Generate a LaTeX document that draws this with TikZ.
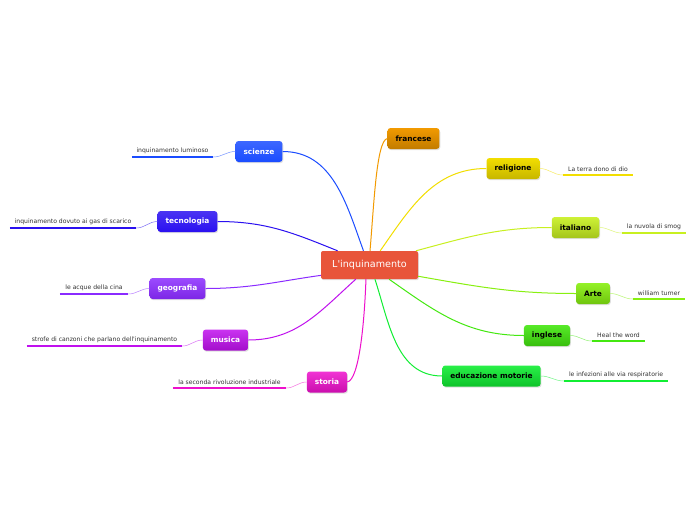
\documentclass[tikz,border=0pt]{standalone}
\usepackage{fontspec}
\setmainfont{DejaVu Sans}
\usetikzlibrary{shadows}
\definecolor{rootred}{HTML}{E8553A}
\definecolor{cfra}{HTML}{F29A00}
\definecolor{crel}{HTML}{F2DE00}
\definecolor{cita}{HTML}{C8F020}
\definecolor{cart}{HTML}{88F010}
\definecolor{cing}{HTML}{44E810}
\definecolor{cedu}{HTML}{11EE33}
\definecolor{csci}{HTML}{1A4CFF}
\definecolor{ctec}{HTML}{2A10F0}
\definecolor{cgeo}{HTML}{8A2BFF}
\definecolor{cmus}{HTML}{C010EE}
\definecolor{csto}{HTML}{EE10CC}

\begin{document}
\begin{tikzpicture}[x=1pt,y=-1pt,
  root/.style={rounded corners=2pt,fill=rootred,text=white,minimum width=97pt,minimum height=28pt,
    font=\fontsize{9.6}{11}\selectfont,drop shadow={opacity=0.25,shadow xshift=0.8pt,shadow yshift=-1.2pt}},
  branch/.style={rounded corners=3pt,minimum height=21pt,inner xsep=8pt,
    font=\fontsize{7.4}{8}\bfseries\selectfont,drop shadow={opacity=0.25,shadow xshift=0.8pt,shadow yshift=-1.2pt}},
  leaf/.style={anchor=south,inner xsep=0pt,inner ysep=3.5pt,text=black!80,font=\fontsize{6.1}{7}\selectfont},
  ul/.style={line width=2.5pt},
  link/.style={line width=1pt},
  twig/.style={line width=0.5pt}]
  \useasboundingbox[fill=white] (0,0) rectangle (696,520);

  % centre
  \node[root] (root) at (369.5,265) {L\textquotesingle inquinamento};

  % branches, left side
  \node[branch,top color=csci!85!white,bottom color=csci,text=white] (sci) at (259,151.5) {scienze};
  \node[branch,top color=ctec!85!white,bottom color=ctec,text=white] (tec) at (187.5,221.5) {tecnologia};
  \node[branch,top color=cgeo!85!white,bottom color=cgeo!90!black,text=white] (geo) at (177.5,288.5) {geografia};
  \node[branch,top color=cmus!85!white,bottom color=cmus!85!black,text=white] (mus) at (225.5,340) {musica};
  \node[branch,top color=csto!85!white,bottom color=csto!85!black,text=white] (sto) at (327,382) {storia};

  % branches, right side
  \node[branch,top color=cfra,bottom color=cfra!80!black] (fra) at (413.5,138.5) {francese};
  \node[branch,top color=crel,bottom color=crel!82!black] (rel) at (513,168.5) {religione};
  \node[branch,top color=cita!90!white,bottom color=cita!82!black] (ita) at (575.5,227.5) {italiano};
  \node[branch,top color=cart!90!white,bottom color=cart!82!black] (art) at (593,293.5) {Arte};
  \node[branch,top color=cing!90!white,bottom color=cing!82!black] (ing) at (547,335.5) {inglese};
  \node[branch,top color=cedu!90!white,bottom color=cedu!82!black] (edu) at (491.5,376) {educazione motorie};

  % leaves
  \node[leaf,minimum width=81pt] (lum) at (172.5,157) {inquinamento luminoso};
  \node[leaf,minimum width=126pt] (gas) at (73,228) {inquinamento dovuto ai gas di scarico};
  \node[leaf,minimum width=68pt] (cina) at (94,294) {le acque della cina};
  \node[leaf,minimum width=155pt] (strofe) at (104.5,346) {strofe di canzoni che parlano dell\textquotesingle inquinamento};
  \node[leaf,minimum width=113pt] (rivol) at (229.5,388) {la seconda rivoluzione industriale};
  \node[leaf,minimum width=70pt] (terra) at (598,175) {La terra dono di dio};
  \node[leaf,minimum width=64pt] (smog) at (654,233) {la nuvola di smog};
  \node[leaf,minimum width=52pt] (turner) at (659,299) {william turner};
  \node[leaf,minimum width=53pt] (heal) at (618.5,341) {Heal the word};
  \node[leaf,minimum width=104pt] (infez) at (616,381) {le infezioni alle via respiratorie};

  % underlines
  \draw[ul,csci] (lum.south west) -- (lum.south east);
  \draw[ul,ctec] (gas.south west) -- (gas.south east);
  \draw[ul,cgeo] (cina.south west) -- (cina.south east);
  \draw[ul,cmus] (strofe.south west) -- (strofe.south east);
  \draw[ul,csto] (rivol.south west) -- (rivol.south east);
  \draw[ul,crel] (terra.south west) -- (terra.south east);
  \draw[ul,cita] (smog.south west) -- (smog.south east);
  \draw[ul,cart] (turner.south west) -- (turner.south east);
  \draw[ul,cing] (heal.south west) -- (heal.south east);
  \draw[ul,cedu] (infez.south west) -- (infez.south east);

  % links from the centre
  \draw[link,csci] (root.113) to[out=110,in=0] (sci.east);
  \draw[link,ctec] (root.156) to[out=158,in=0] (tec.east);
  \draw[link,cgeo] (root.192) to[out=188,in=0] (geo.east);
  \draw[link,cmus] (root.226) to[out=222,in=0] (mus.east);
  \draw[link,csto] (root.256) to[out=268,in=10,in looseness=0.3] (sto.east);
  \draw[link,cfra] (root.88) to[out=85,in=190,in looseness=0.25] (fra.west);
  \draw[link,crel] (root.53) to[out=55,in=180] (rel.west);
  \draw[link,cita] (root.17) to[out=15,in=180] (ita.west);
  \draw[link,cart] (root.347) to[out=-10,in=180] (art.west);
  \draw[link,cing] (root.324) to[out=-35,in=180] (ing.west);
  \draw[link,cedu] (root.291) to[out=-72,in=180] (edu.west);

  % twigs to the leaves
  \draw[twig,csci!60] (sci.west) to[out=180,in=0] (lum.south east);
  \draw[twig,ctec!60] (tec.west) to[out=180,in=0] (gas.south east);
  \draw[twig,cgeo!60] (geo.west) to[out=180,in=0] (cina.south east);
  \draw[twig,cmus!60] (mus.west) to[out=180,in=0] (strofe.south east);
  \draw[twig,csto!60] (sto.west) to[out=180,in=0] (rivol.south east);
  \draw[twig,crel!60] (rel.east) to[out=0,in=180] (terra.south west);
  \draw[twig,cita!60] (ita.east) to[out=0,in=180] (smog.south west);
  \draw[twig,cart!60] (art.east) to[out=0,in=180] (turner.south west);
  \draw[twig,cing!60] (ing.east) to[out=0,in=180] (heal.south west);
  \draw[twig,cedu!60] (edu.east) to[out=0,in=180] (infez.south west);
\end{tikzpicture}
\end{document}
